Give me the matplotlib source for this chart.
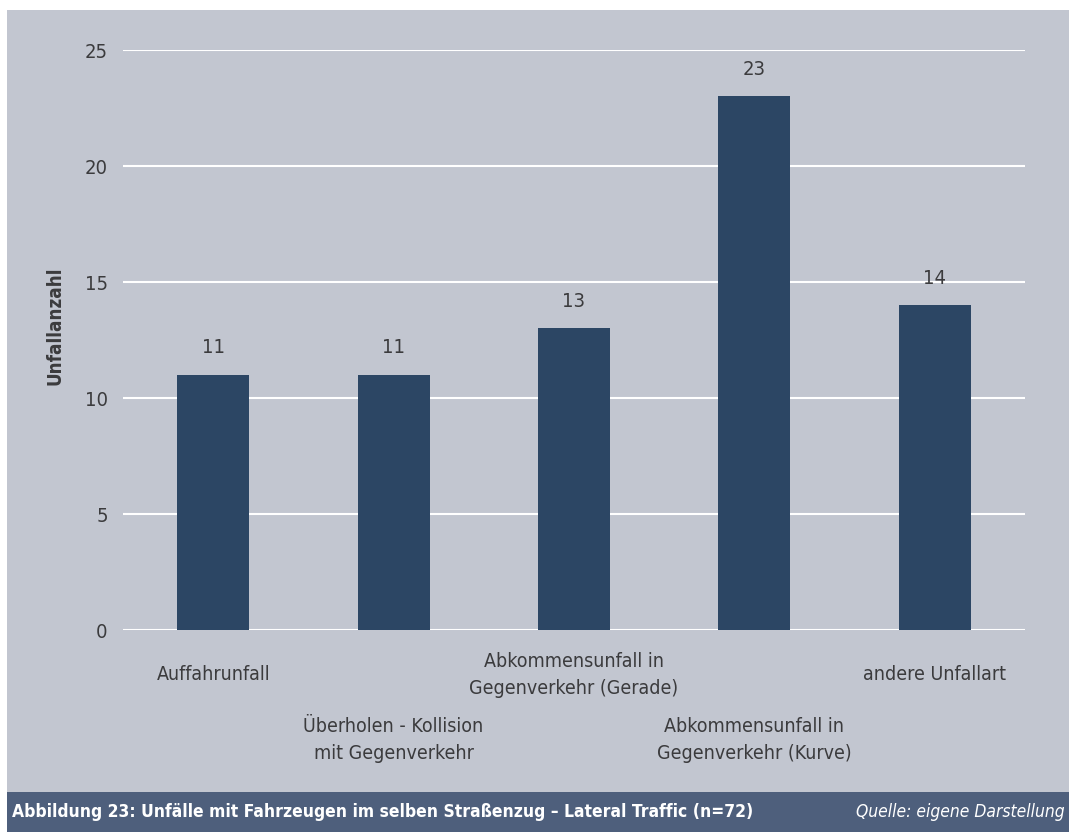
import matplotlib.pyplot as plt
from matplotlib.patches import Rectangle
import numpy as np

kategorien = ['Auffahrunfall', 'Überholen - Kollision\nmit Gegenverkehr',
              'Abkommensunfall in\nGegenverkehr (Gerade)',
              'Abkommensunfall in\nGegenverkehr (Kurve)', 'andere Unfallart']
werte = [11, 11, 13, 23, 14]
yticks = [0, 5, 10, 15, 20, 25]

bg = '#c2c6d0'
balken = '#2c4664'
textfarbe = '#3b3b3d'

plt.rcParams['font.family'] = ['DejaVu Sans']
plt.rcParams['font.stretch'] = 'condensed'

W, H = 1070, 832
fig = plt.figure(figsize=(W / 100, H / 100), dpi=100)
fig.patch.set_facecolor('white')

# Hintergrund und Fusszeile
fig.add_artist(Rectangle((7 / W, 40 / H), 1062 / W, 782 / H, transform=fig.transFigure,
                         facecolor=bg, edgecolor='none', zorder=0))
fig.add_artist(Rectangle((7 / W, 0), 1062 / W, 40 / H, transform=fig.transFigure,
                         facecolor='#4e5f7c', edgecolor='none', zorder=0))

ax = fig.add_axes([123 / W, 1 - 630 / H, 902 / W, 580 / H])
ax.set_facecolor('none')
x = np.arange(len(werte))
ax.bar(x, werte, width=0.4, color=balken, zorder=3)
ax.set_xlim(-0.5, len(werte) - 0.5)
ax.set_ylim(0, 25)
ax.set_yticks(yticks)
ax.set_yticklabels([str(t) for t in yticks], fontsize=14.5, color=textfarbe)
ax.tick_params(axis='y', length=0, pad=11)
ax.set_xticks([])
for s in ax.spines.values():
    s.set_visible(False)
for t in yticks:
    ax.axhline(t, color='white', lw=1.5, zorder=1)

for xi, v in zip(x, werte):
    ax.annotate(str(v), (xi, v), xytext=(0, 27), textcoords='offset pixels',
                ha='center', va='center', fontsize=14.5, color=textfarbe)

# gestaffelte Kategorienbeschriftungen
for i, lab in enumerate(kategorien):
    yoff = -45 if i % 2 == 0 else -110
    ax.annotate(lab, (i, 0), xytext=(0, yoff), textcoords='offset pixels',
                ha='center', va='center', fontsize=14, color=textfarbe,
                linespacing=1.55, annotation_clip=False)

fig.text(55 / W, 1 - 326 / H, 'Unfallanzahl', rotation=90, ha='center', va='center',
         fontsize=13.5, fontweight='bold', color=textfarbe)

fig.text(12 / W, 20 / H, 'Abbildung 23: Unfälle mit Fahrzeugen im selben Straßenzug – Lateral Traffic (n=72)',
         ha='left', va='center', fontsize=12.5, fontweight='bold', color='white')
fig.text(1065 / W, 20 / H, 'Quelle: eigene Darstellung', ha='right', va='center',
         fontsize=12.5, style='italic', color='white')

fig.savefig('out.png', dpi=100)
